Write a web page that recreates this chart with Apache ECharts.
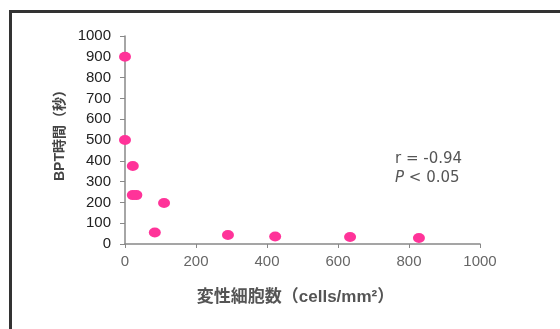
<!DOCTYPE html>
<html><head><meta charset="utf-8">
<script src="https://cdn.jsdelivr.net/npm/echarts@6/dist/echarts.min.js"></script>
<style>html,body{margin:0;padding:0;background:#fff}#c{width:560px;height:329px}</style>
</head><body><div id="c"></div>
<script>
var cellCounts = [0, 0, 22, 22, 32, 110, 84, 290, 423, 634, 828];
var bptTimes = [900, 500, 375, 235, 235, 197, 55, 43, 36, 34, 29];
var xTicks = [0, 200, 400, 600, 800, 1000];
var yTicks = [0, 100, 200, 300, 400, 500, 600, 700, 800, 900, 1000];
var points = cellCounts.map(function (x, i) { return [x, bptTimes[i]]; });
var font = '"Liberation Sans", Arial, "Noto Sans CJK JP", sans-serif';
var font2 = '"DejaVu Sans", sans-serif';
var chart = echarts.init(document.getElementById('c'));
chart.setOption({
  animation: false,
  backgroundColor: '#fff',
  grid: { left: 125, right: 80, top: 36, bottom: 85 },
  xAxis: {
    type: 'value', min: xTicks[0], max: xTicks[xTicks.length - 1], interval: xTicks[1] - xTicks[0],
    name: '変性細胞数（cells/mm²）', nameLocation: 'middle', nameGap: 45,
    nameTextStyle: { fontFamily: font, fontSize: 17, fontWeight: 'bold', color: '#555', padding: [0, 14, 0, 0] },
    axisLine: { show: true, lineStyle: { color: '#888', width: 1.5 } },
    axisTick: { show: true, length: 4, lineStyle: { color: '#888' } },
    axisLabel: { fontFamily: font, fontSize: 15, color: '#666', margin: 10, formatter: function (v) { return String(v); } },
    splitLine: { show: false }
  },
  yAxis: {
    type: 'value', min: yTicks[0], max: yTicks[yTicks.length - 1], interval: yTicks[1] - yTicks[0],
    name: 'BPT時間（秒）', nameLocation: 'middle', nameGap: 55, nameRotate: 90,
    nameTextStyle: { fontFamily: font, fontSize: 14, fontWeight: 'bold', color: '#444', padding: [0, 0, 0, 16] },
    axisLine: { show: true, lineStyle: { color: '#888', width: 1.5 } },
    axisTick: { show: true, length: 5, lineStyle: { color: '#888' } },
    axisLabel: { fontFamily: font, fontSize: 15, color: '#222', margin: 14, formatter: function (v) { return String(v); } },
    splitLine: { show: false }
  },
  series: [{
    type: 'scatter', data: points, symbol: 'circle', symbolSize: [12, 10],
    itemStyle: { color: '#ff3399', opacity: 1 }
  }],
  graphic: [
    { type: 'rect', left: 8, top: 9, shape: { width: 700, height: 500 },
      style: { fill: 'none', stroke: '#333', lineWidth: 3 }, silent: true },
    { type: 'text', left: 395, top: 152,
      style: { text: 'r = -0.94', font: '15px ' + font2, fill: '#555' } },
    { type: 'text', left: 395, top: 171,
      style: { text: '{i|P} < 0.05', font: '15px ' + font2, fill: '#555',
        rich: { i: { fontStyle: 'italic', fontFamily: font2, fontSize: 15, fill: '#555', color: '#555' } } } }
  ]
});
</script></body></html>
